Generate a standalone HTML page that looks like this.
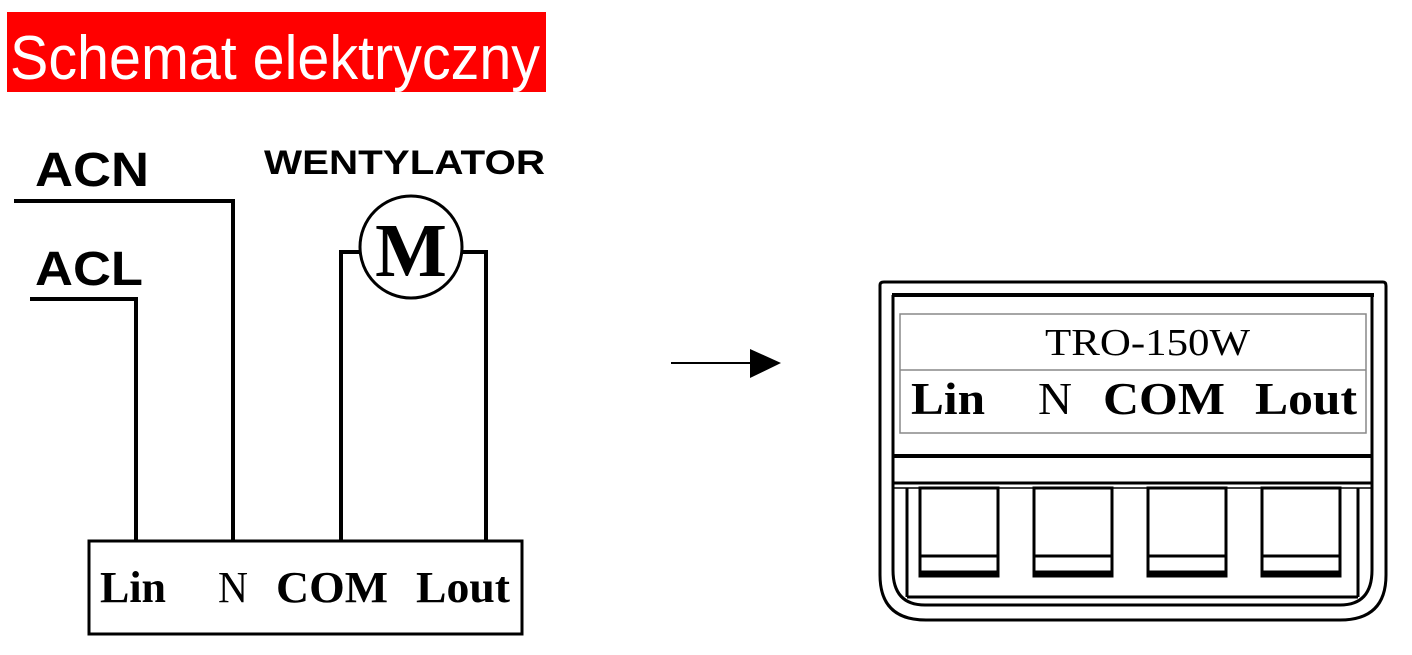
<!DOCTYPE html>
<html><head><meta charset="utf-8"><style>html,body{margin:0;padding:0;background:#fff;}svg{display:block}</style></head>
<body>
<svg width="1412" height="655" viewBox="0 0 1412 655" xmlns="http://www.w3.org/2000/svg">
<rect x="7" y="12" width="539" height="80" fill="#ff0000"/>
<text x="10" y="79" font-family="Liberation Sans, sans-serif" font-size="62" fill="#fff" textLength="530" lengthAdjust="spacingAndGlyphs">Schemat elektryczny</text>

<g font-family="Liberation Sans, sans-serif" font-weight="bold" fill="#000">
<text x="35" y="186" font-size="48" textLength="114" lengthAdjust="spacingAndGlyphs">ACN</text>
<text x="35" y="285" font-size="48" textLength="108" lengthAdjust="spacingAndGlyphs">ACL</text>
<text x="264" y="174" font-size="34" textLength="281" lengthAdjust="spacingAndGlyphs">WENTYLATOR</text>
</g>
<g stroke="#000" stroke-width="4" fill="none">
<polyline points="14,201 233,201 233,541"/>
<polyline points="30,299 136,299 136,541"/>
<polyline points="341,541 341,252 362,252"/>
<polyline points="460,252 486,252 486,541"/>
<rect x="89" y="541" width="433" height="93" stroke-width="3"/>
</g>
<circle cx="411" cy="247" r="51" stroke="#000" stroke-width="3" fill="#fff"/>
<text x="411" y="276" text-anchor="middle" font-family="Liberation Serif, serif" font-weight="bold" font-size="76">M</text>
<g font-family="Liberation Serif, serif" font-size="44" fill="#000">
<text x="100" y="602" font-weight="bold" textLength="66" lengthAdjust="spacingAndGlyphs">Lin</text>
<text x="218" y="602" textLength="30" lengthAdjust="spacingAndGlyphs">N</text>
<text x="276" y="602" font-weight="bold" textLength="112" lengthAdjust="spacingAndGlyphs">COM</text>
<text x="416" y="602" font-weight="bold" textLength="94" lengthAdjust="spacingAndGlyphs">Lout</text>
</g>

<line x1="671" y1="363" x2="752" y2="363" stroke="#000" stroke-width="2"/>
<polygon points="750,349 781,363 750,378" fill="#000"/>

<g stroke="#000" fill="none">
<path d="M880,575 L880,285 Q880,282 884,282 L1383,282 Q1386,282 1386,286 L1386,575 Q1386,620 1340,620 L926,620 Q880,620 880,575 Z" stroke-width="3"/>
<line x1="892" y1="295" x2="1374" y2="295" stroke-width="4"/>
<line x1="893" y1="295" x2="893" y2="570" stroke-width="3"/>
<line x1="1372" y1="295" x2="1372" y2="570" stroke-width="3"/>
<rect x="900" y="314" width="466" height="119" stroke="#888" stroke-width="1.5"/>
<line x1="900" y1="370" x2="1366" y2="370" stroke="#888" stroke-width="1.5"/>
<line x1="893" y1="456" x2="1372" y2="456" stroke-width="4"/>
<line x1="893" y1="483" x2="1372" y2="483" stroke-width="3"/>
<line x1="893" y1="488" x2="1372" y2="488" stroke-width="1.5"/>
<line x1="907" y1="488" x2="907" y2="597" stroke-width="3"/>
<line x1="1358" y1="488" x2="1358" y2="597" stroke-width="3"/>
<path d="M893,570 Q893,605 925,605 L1340,605 Q1372,605 1372,570" stroke-width="3"/>
<line x1="907" y1="597" x2="1358" y2="597" stroke-width="3"/>
</g>
<g stroke="#000" fill="none" stroke-width="3">
<rect x="920" y="488" width="78" height="88"/>
<rect x="1034" y="488" width="78" height="88"/>
<rect x="1148" y="488" width="78" height="88"/>
<rect x="1262" y="488" width="78" height="88"/>
<line x1="920" y1="556" x2="998" y2="556"/>
<line x1="1034" y1="556" x2="1112" y2="556"/>
<line x1="1148" y1="556" x2="1226" y2="556"/>
<line x1="1262" y1="556" x2="1340" y2="556"/>
<line x1="920" y1="573" x2="998" y2="573" stroke-width="5"/>
<line x1="1034" y1="573" x2="1112" y2="573" stroke-width="5"/>
<line x1="1148" y1="573" x2="1226" y2="573" stroke-width="5"/>
<line x1="1262" y1="573" x2="1340" y2="573" stroke-width="5"/>
</g>
<text x="1045" y="355" font-family="Liberation Serif, serif" font-size="38" textLength="205" lengthAdjust="spacingAndGlyphs">TRO-150W</text>
<g font-family="Liberation Serif, serif" font-size="46" fill="#000">
<text x="911" y="414" font-weight="bold" textLength="74" lengthAdjust="spacingAndGlyphs">Lin</text>
<text x="1038" y="414" textLength="34" lengthAdjust="spacingAndGlyphs">N</text>
<text x="1103" y="414" font-weight="bold" textLength="122" lengthAdjust="spacingAndGlyphs">COM</text>
<text x="1255" y="414" font-weight="bold" textLength="102" lengthAdjust="spacingAndGlyphs">Lout</text>
</g>
</svg>
</body></html>
